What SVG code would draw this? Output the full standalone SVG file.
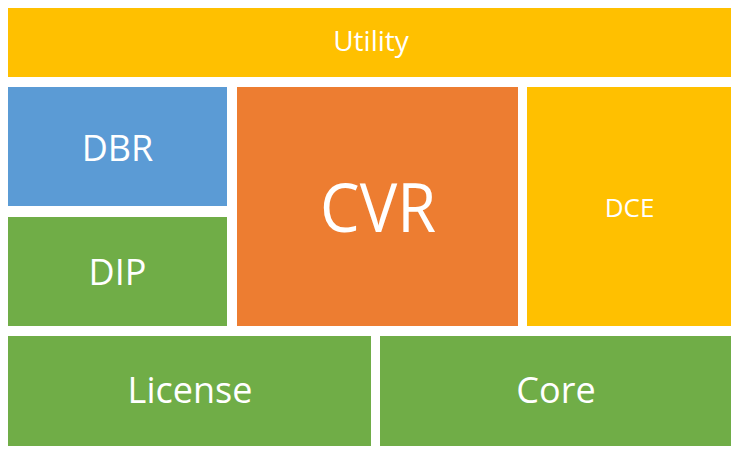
<svg xmlns="http://www.w3.org/2000/svg" width="741" height="456" viewBox="0 0 741 456">
<style>
text{font-family:"Open Sans","Liberation Sans",sans-serif;fill:#fff;text-anchor:middle}
.y{fill:#FFC000}.b{fill:#5B9BD5}.g{fill:#70AD47}.o{fill:#ED7D31}
</style>
<rect width="741" height="456" fill="#fff"/>
<g id="utility"><rect class="y" x="8" y="8" width="723" height="69"/><text x="371" y="51" font-size="28">Utility</text></g>
<g id="dbr"><rect class="b" x="8" y="87" width="219" height="119"/><text x="117.5" y="160.5" font-size="36">DBR</text></g>
<g id="dip"><rect class="g" x="8" y="217" width="219" height="109"/><text x="117.5" y="284.5" font-size="36">DIP</text></g>
<g id="cvr"><rect class="o" x="237" y="87" width="281" height="239"/><text x="378" y="232" font-size="67" textLength="116" lengthAdjust="spacingAndGlyphs">CVR</text></g>
<g id="dce"><rect class="y" x="527" y="87" width="204" height="239"/><text x="629.5" y="217" font-size="26">DCE</text></g>
<g id="license"><rect class="g" x="8" y="336" width="363" height="110"/><text x="190" y="403" font-size="36">License</text></g>
<g id="core"><rect class="g" x="380" y="336" width="351" height="110"/><text x="556" y="403" font-size="36">Core</text></g>
<g id="connectors"/>
</svg>
